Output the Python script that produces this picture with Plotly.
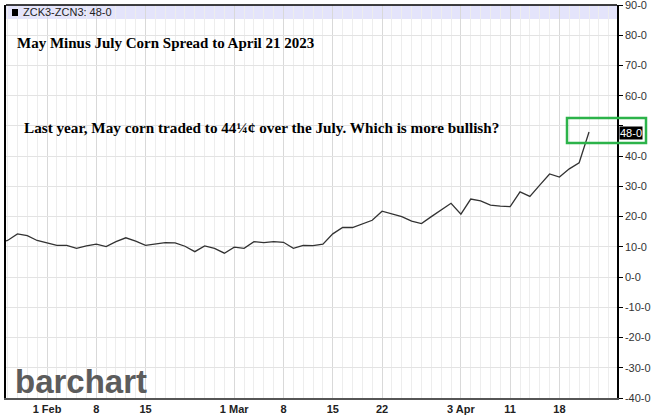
import plotly.graph_objects as go

# ---- data ----
dates = [
    "2023-01-25", "2023-01-26", "2023-01-27", "2023-01-30", "2023-01-31",
    "2023-02-01", "2023-02-02", "2023-02-03", "2023-02-06", "2023-02-07",
    "2023-02-08", "2023-02-09", "2023-02-10", "2023-02-13", "2023-02-14",
    "2023-02-15", "2023-02-16", "2023-02-17", "2023-02-21", "2023-02-22",
    "2023-02-23", "2023-02-24", "2023-02-27", "2023-02-28", "2023-03-01",
    "2023-03-02", "2023-03-03", "2023-03-06", "2023-03-07", "2023-03-08",
    "2023-03-09", "2023-03-10", "2023-03-13", "2023-03-14", "2023-03-15",
    "2023-03-16", "2023-03-17", "2023-03-20", "2023-03-21", "2023-03-22",
    "2023-03-23", "2023-03-24", "2023-03-27", "2023-03-28", "2023-03-29",
    "2023-03-30", "2023-03-31", "2023-04-03", "2023-04-04", "2023-04-05",
    "2023-04-06", "2023-04-10", "2023-04-11", "2023-04-12", "2023-04-13",
    "2023-04-14", "2023-04-17", "2023-04-18", "2023-04-19", "2023-04-20",
    "2023-04-21",
]
spread = [
    11.5, 12.1, 14.3, 13.7, 12.1,
    11.3, 10.5, 10.5, 9.5, 10.3,
    10.9, 10.1, 11.7, 13.0, 11.9,
    10.5, 10.9, 11.4, 11.3, 10.2,
    8.4, 10.3, 9.5, 7.9, 9.9,
    9.5, 11.7, 11.4, 11.7, 11.5,
    9.5, 10.5, 10.4, 10.9, 14.3,
    16.4, 16.4, 17.5, 18.8, 21.8,
    21.0, 20.0, 18.5, 17.7, 20.0,
    22.2, 24.4, 20.8, 25.8, 25.2,
    23.8, 23.5, 23.3, 28.2, 26.7,
    30.4, 34.1, 33.1, 35.8, 37.8,
    48.0,
]
tick_dates = ["2023-02-01", "2023-02-08", "2023-02-15", "2023-03-01", "2023-03-08",
              "2023-03-15", "2023-03-22", "2023-04-03", "2023-04-11", "2023-04-18"]
tick_labels = ["1 Feb", "8", "15", "1 Mar", "8", "15", "22", "3 Apr", "11", "18"]
y_ticks = list(range(-40, 91, 10))
# the 50 label is hidden behind the last-value marker in the original
y_tick_labels = ["" if v == 50 else f"{v}-0" for v in y_ticks]
last_label = "48-0"

title1 = "May Minus July Corn Spread to April 21 2023"
title2 = "Last year, May corn traded to 44\u00bc\u00a2 over the July. Which is more bullish?"

# ---- geometry helpers (pixel -> paper) ----
W, H = 654, 418
L, R, T, B = 6, 617, 5, 398


def px(x):
    return (x - L) / (R - L)


def py(y):
    return (B - y) / (B - T)


xi = list(range(len(dates)))
tick_idx = [dates.index(d) for d in tick_dates]

fig = go.Figure()
fig.add_trace(go.Scatter(
    x=xi, y=spread, mode="lines",
    line=dict(color="#333333", width=1.3),
    hoverinfo="skip", showlegend=False,
))

shapes = [
    # header band
    dict(type="rect", xref="paper", yref="paper", x0=0, x1=1, y0=py(19), y1=1,
         fillcolor="#e4e4fb", line=dict(width=0), layer="below"),
    # top border
    dict(type="line", xref="paper", yref="paper", x0=0, x1=1, y0=1, y1=1,
         line=dict(color="#000000", width=1.5)),
    # legend square
    dict(type="rect", xref="paper", yref="paper", x0=px(12), x1=px(18), y0=py(16), y1=py(9),
         fillcolor="#000000", line=dict(width=0)),
    # green highlight box
    dict(type="rect", xref="paper", yref="paper", x0=px(567), x1=px(646), y0=py(143), y1=py(118),
         line=dict(color="#2cb34a", width=2.5), fillcolor="rgba(0,0,0,0)"),
]

annotations = [
    dict(text="ZCK3-ZCN3: 48-0", xref="paper", yref="paper", x=px(21), y=py(12.5),
         xanchor="left", yanchor="middle", showarrow=False,
         font=dict(family="Liberation Sans, Arial", size=11, color="#222222")),
    dict(text=f"<b>{title1}</b>", xref="paper", yref="paper", x=px(15), y=py(42.5),
         xanchor="left", yanchor="middle", showarrow=False,
         font=dict(family="Liberation Serif, Times New Roman", size=15, color="#000000")),
    dict(text=f"<b>{title2}</b>", xref="paper", yref="paper", x=px(22), y=py(127.5),
         xanchor="left", yanchor="middle", showarrow=False,
         font=dict(family="Liberation Serif, Times New Roman", size=15.2, color="#000000")),
    dict(text="<b>barchart</b>", xref="paper", yref="paper", x=px(13), y=py(381),
         xanchor="left", yanchor="middle", showarrow=False,
         font=dict(family="Liberation Sans, Arial", size=33, color="#5c5c5c")),
    dict(text=last_label, xref="paper", yref="paper", x=px(619), y=py(133),
         xanchor="left", yanchor="middle", showarrow=False, bgcolor="#000000",
         borderpad=0,
         font=dict(family="Liberation Sans, Arial", size=11, color="#ffffff")),
]

fig.update_layout(
    width=W, height=H,
    margin=dict(l=L, r=W - R, t=T, b=H - B, autoexpand=False),
    paper_bgcolor="#ffffff", plot_bgcolor="#ffffff",
    showlegend=False,
    shapes=shapes, annotations=annotations,
    xaxis=dict(
        range=[0.84, 62.84], tickmode="array", tickvals=tick_idx,
        ticktext=[f"<b>{t}</b>" for t in tick_labels],
        showgrid=True, gridcolor="#d9d9d9", gridwidth=1,
        minor=dict(dtick=1, tick0=0, showgrid=True, gridcolor="#ededed", gridwidth=1),
        showline=True, linecolor="#555555", linewidth=2,
        ticks="", zeroline=False, automargin=False,
        tickfont=dict(family="Liberation Sans, Arial", size=11, color="#222222"),
    ),
    yaxis=dict(
        side="right", range=[-40, 90], tickmode="array", tickvals=y_ticks,
        ticktext=y_tick_labels,
        showgrid=True, gridcolor="#e3e3e3", gridwidth=1,
        showline=True, linecolor="#000000", linewidth=1.5, mirror=True,
        ticks="outside", ticklen=4, tickcolor="#000000", zeroline=False, automargin=False,
        ticklabeloverflow="allow",
        tickfont=dict(family="Liberation Sans, Arial", size=11, color="#333333"),
    ),
)

fig.write_html("out.html", config={"displayModeBar": False},
               post_script="document.body.style.margin='0';")
